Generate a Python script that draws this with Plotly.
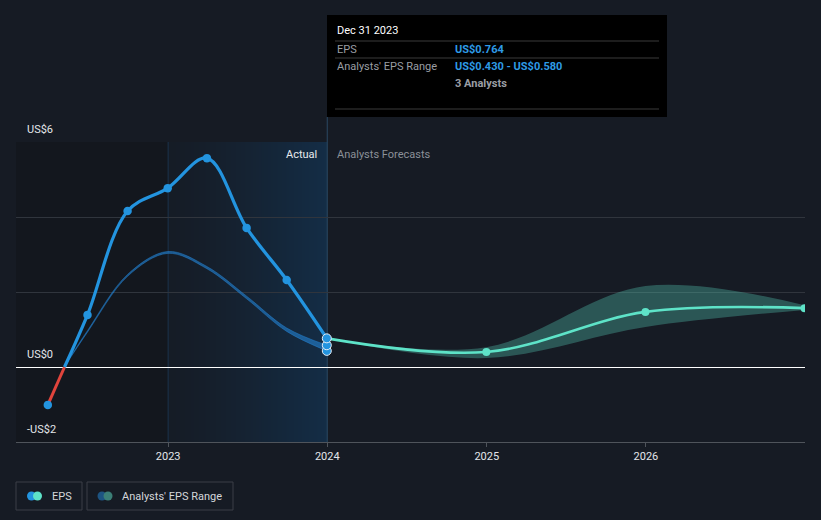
import plotly.graph_objects as go
import pandas as pd
import zlib
import struct
import base64

# ---------------- data ----------------
actual_dates = ["2022-03-31", "2022-06-30", "2022-09-30", "2022-12-31",
                "2023-03-31", "2023-06-30", "2023-09-30", "2023-12-31"]
actual_eps = [-1.01, 1.39, 4.16, 4.77, 5.57, 3.71, 2.32, 0.764]

past_range_dates = ["2022-05-08", "2022-06-30", "2022-09-30", "2022-12-31",
                    "2023-03-31", "2023-06-30", "2023-09-30", "2023-12-31"]
past_range_low = [0.00, 0.93, 2.42, 3.03, 2.62, 1.82, 0.95, 0.43]
past_range_high = [0.02, 0.97, 2.47, 3.08, 2.68, 1.89, 1.04, 0.58]

forecast_dates = ["2023-12-31", "2024-12-31", "2025-12-31", "2026-12-31"]
forecast_eps = [0.764, 0.40, 1.47, 1.57]
forecast_low = [0.764, 0.24, 1.07, 1.52]
forecast_high = [0.764, 0.53, 2.16, 1.65]

x_ticks = ["2023-01-01", "2024-01-01", "2025-01-01", "2026-01-01"]
x_tick_labels = ["2023", "2024", "2025", "2026"]
y_labels = [(6, "US$6"), (0, "US$0"), (-2, "-US$2")]

# ---------------- style ----------------
BG = "#161b24"
BLUE = "#2394df"
TEAL = "#5ee3c8"
RED = "#e0443c"
FONT = "Roboto"
W, H = 821, 520
L, R, T, B = 16, 805, 142, 442


def px(xp):
    return (xp - L) / (R - L)


def py(yp):
    return (B - yp) / (B - T)


def gradient_png(c0, c1, n=128, power=1.3):
    row = bytearray()
    for i in range(n):
        t = (i / (n - 1)) ** power
        row += bytes(int(round(a + (b - a) * t)) for a, b in zip(c0, c1))
    raw = b"\x00" + bytes(row)

    def chunk(tag, data):
        return (struct.pack(">I", len(data)) + tag + data
                + struct.pack(">I", zlib.crc32(tag + data) & 0xffffffff))

    ihdr = struct.pack(">IIBBBBB", n, 1, 8, 2, 0, 0, 0)
    png = (b"\x89PNG\r\n\x1a\n" + chunk(b"IHDR", ihdr)
           + chunk(b"IDAT", zlib.compress(raw)) + chunk(b"IEND", b""))
    return "data:image/png;base64," + base64.b64encode(png).decode()


fig = go.Figure()

# past analysts' range (thin band)
fig.add_trace(go.Scatter(x=past_range_dates, y=past_range_low, mode="lines",
                         line=dict(color="rgba(35,130,210,0.6)", width=0.8, shape="spline"),
                         hoverinfo="skip"))
fig.add_trace(go.Scatter(x=past_range_dates, y=past_range_high, mode="lines",
                         line=dict(color="rgba(35,130,210,0.6)", width=0.8, shape="spline"),
                         fill="tonexty", fillcolor="rgba(35,130,210,0.6)", hoverinfo="skip"))

# forecast band
fig.add_trace(go.Scatter(x=forecast_dates, y=forecast_low, mode="lines",
                         line=dict(color="rgba(0,0,0,0)", width=0, shape="spline"),
                         hoverinfo="skip"))
fig.add_trace(go.Scatter(x=forecast_dates, y=forecast_high, mode="lines",
                         line=dict(color="rgba(0,0,0,0)", width=0, shape="spline"),
                         fill="tonexty", fillcolor="rgba(90,210,190,0.32)", hoverinfo="skip"))

# actual EPS: red part below zero, blue above
t0 = pd.Timestamp(actual_dates[0])
t1 = pd.Timestamp(actual_dates[1])
frac = -actual_eps[0] / (actual_eps[1] - actual_eps[0])
tc = (t0 + (t1 - t0) * frac).strftime("%Y-%m-%d %H:%M:%S")
fig.add_trace(go.Scatter(x=[actual_dates[0], tc], y=[actual_eps[0], 0], mode="lines",
                         line=dict(color=RED, width=3), hoverinfo="skip"))
fig.add_trace(go.Scatter(x=[tc] + actual_dates[1:],
                         y=[0] + actual_eps[1:], mode="lines",
                         line=dict(color=BLUE, width=3.2, shape="spline", smoothing=1),
                         hoverinfo="skip"))

# forecast EPS line
fig.add_trace(go.Scatter(x=forecast_dates, y=forecast_eps, mode="lines+markers",
                         line=dict(color=TEAL, width=2.6, shape="spline", smoothing=1),
                         marker=dict(color=TEAL, size=8), hoverinfo="skip"))

# actual markers
fig.add_trace(go.Scatter(x=actual_dates[:-1], y=actual_eps[:-1], mode="markers",
                         marker=dict(color=BLUE, size=8.5), hoverinfo="skip"))
# highlighted markers at last actual date
fig.add_trace(go.Scatter(x=[actual_dates[-1]] * 3,
                         y=[past_range_low[-1], past_range_high[-1], actual_eps[-1]],
                         mode="markers",
                         marker=dict(color=BLUE, size=9, line=dict(color="#e8eef5", width=1)),
                         hoverinfo="skip", cliponaxis=False))

shapes = []
# darker area left of 2023
shapes.append(dict(type="rect", xref="x", yref="paper", x0="2022-01-01", x1="2023-01-01",
                   y0=0, y1=1, fillcolor="#13171e", line=dict(width=0), layer="below"))
# vertical lines
shapes.append(dict(type="line", xref="x", yref="paper", x0="2023-01-01", x1="2023-01-01",
                   y0=0, y1=1, line=dict(color="#1c344d", width=1), layer="below"))
shapes.append(dict(type="line", xref="x", yref="paper", x0="2024-01-01", x1="2024-01-01",
                   y0=0, y1=py(117), line=dict(color="#2a4863", width=1), layer="below"))

# tooltip box
shapes.append(dict(type="rect", xref="paper", yref="paper", x0=px(327), x1=px(667),
                   y0=py(117), y1=py(15), fillcolor="#000000", line=dict(width=0)))
for yy in (41, 58, 109):
    shapes.append(dict(type="line", xref="paper", yref="paper", x0=px(335), x1=px(659),
                       y0=py(yy), y1=py(yy), line=dict(color="#3a3a3a", width=1)))

# legend boxes
for x0, x1 in ((16, 82), (87, 233)):
    shapes.append(dict(type="rect", xref="paper", yref="paper", x0=px(x0), x1=px(x1),
                       y0=py(510), y1=py(482), line=dict(color="#3a3f47", width=1),
                       fillcolor="rgba(0,0,0,0)"))


def circle(cx, cy, r, color):
    return dict(type="circle", xref="paper", yref="paper", x0=px(cx - r), x1=px(cx + r),
                y0=py(cy + r), y1=py(cy - r), fillcolor=color, line=dict(width=0))


shapes += [circle(31.5, 496, 4.5, BLUE), circle(37.5, 496, 4.5, TEAL),
           circle(102, 496, 4.5, "#1d5482"), circle(108, 496, 4.5, "#3b7f77")]

# gradient image for the "Actual" period
span_ms = (pd.Timestamp("2024-01-01") - pd.Timestamp("2023-01-01")).total_seconds() * 1000
images = [dict(source=gradient_png((21, 28, 38), (20, 45, 70)), xref="x", yref="paper",
               x="2023-01-01", y=1, sizex=span_ms, sizey=1, sizing="stretch",
               xanchor="left", yanchor="top", layer="below")]

annotations = []


def text(x, y, s, color, size=11, anchor="left", bold=False):
    annotations.append(dict(xref="paper", yref="paper", x=px(x), y=py(y), text=(f"<b>{s}</b>" if bold else s),
                            showarrow=False, xanchor=anchor, yanchor="middle",
                            font=dict(color=color, size=size, family=FONT)))


for val, lab in y_labels:
    yp = B - (val + 2) / 8 * (B - T)
    text(25, yp - 13, lab, "#e3e6ea")

text(319, 154, "Actual", "#e8eaed", anchor="right")
text(335, 154, "Analysts Forecasts", "#8b9098")

text(335, 31, "Dec 31 2023", "#ffffff")
text(335, 49.5, "EPS", "#9a9ea4")
text(453, 49.5, "US$0.764", "#2e9be6", bold=True)
text(335, 66.5, "Analysts' EPS Range", "#9a9ea4")
text(453, 66.5, "US$0.430 - US$0.580", "#2e9be6", bold=True)
text(453, 83.5, "3 Analysts", "#9a9ea4", bold=True)

text(50, 496, "EPS", "#d4d7db")
text(120, 496, "Analysts' EPS Range", "#d4d7db")

fig.update_layout(
    width=W, height=H,
    margin=dict(l=L, r=W - R, t=T, b=H - B, pad=0),
    paper_bgcolor=BG, plot_bgcolor=BG,
    showlegend=False, hovermode=False,
    font=dict(family=FONT, size=11, color="#e3e6ea"),
    shapes=shapes, annotations=annotations, images=images,
    xaxis=dict(type="date", range=["2022-01-17", "2027-01-01"],
               tickvals=x_ticks, ticktext=x_tick_labels,
               showgrid=False, zeroline=False,
               showline=True, linecolor="#4f545b", linewidth=1,
               ticks="outside", ticklen=4, tickcolor="#4f545b",
               tickfont=dict(color="#e3e6ea", size=11, family=FONT)),
    yaxis=dict(range=[-2, 6], dtick=2, showticklabels=False,
               showgrid=True, gridcolor="#30353d", gridwidth=1,
               zeroline=True, zerolinecolor="#ffffff", zerolinewidth=1.3,
               fixedrange=True),
)

fig.write_html("out.html", config={"displayModeBar": False},
               post_script="document.body.style.margin='0';document.body.style.background='" + BG + "';")
